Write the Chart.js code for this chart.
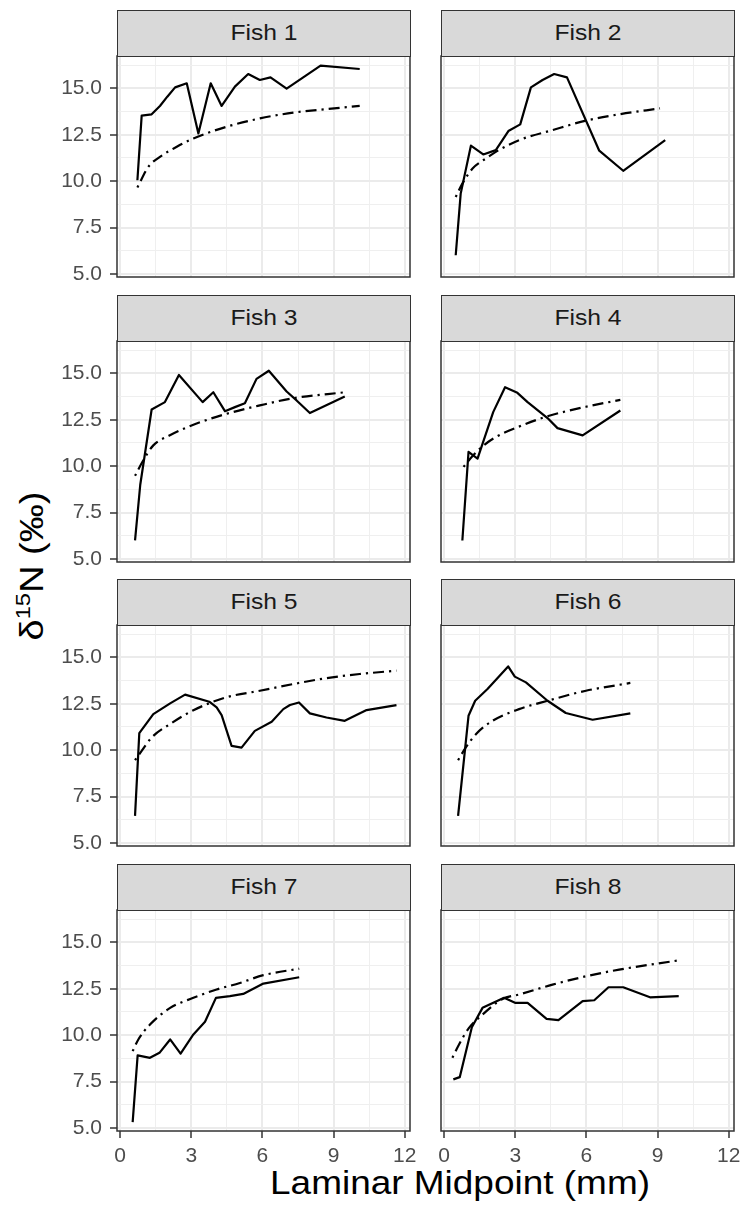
<!DOCTYPE html>
<html>
<head>
<meta charset="utf-8">
<title>Fish d15N by laminar midpoint</title>
<script src="https://cdn.jsdelivr.net/npm/chart.js@4.4.1/dist/chart.umd.min.js"></script>
<style>
html,body{margin:0;padding:0;background:#fff;}
#fig{position:relative;width:745px;height:1206px;overflow:hidden;background:#fff;font-family:"Liberation Sans",Arial,Helvetica,sans-serif;}
#fig canvas{position:absolute;}
.strip{position:absolute;box-sizing:border-box;background:#D9D9D9;border:1.5px solid #333333;color:#1A1A1A;font-size:22px;line-height:1;display:flex;align-items:center;justify-content:center;}
.strip span{display:inline-block;transform:scaleX(1.12);}
.xtitle{position:absolute;left:460px;top:1166px;transform:translateX(-50%) scaleX(1.12);font-size:33px;line-height:1;color:#000;white-space:nowrap;}
.ytitle{position:absolute;left:31px;top:566px;transform:translate(-50%,-50%) rotate(-90deg) scaleX(1.12);font-size:34px;line-height:1;color:#000;white-space:nowrap;}
.ytitle .sup{font-size:0.62em;position:relative;top:-0.62em;}
</style>
</head>
<body>
<div id="fig">
  <div class="ytitle">δ<span class="sup">15</span>N (‰)</div>
  <div class="xtitle">Laminar Midpoint (mm)</div>
</div>
<script>
// ---------- data ----------
const panelTitles = ['Fish 1', 'Fish 2', 'Fish 3', 'Fish 4', 'Fish 5', 'Fish 6', 'Fish 7', 'Fish 8'];

const fish1X = [0.73, 0.91, 1.33, 1.68, 1.99, 2.32, 2.81, 3.30, 3.82, 4.28, 4.84, 5.40, 5.89, 6.34, 7.02, 8.45, 10.10];
const fish1Y = [10.05, 13.53, 13.60, 14.05, 14.55, 15.05, 15.27, 12.57, 15.27, 14.05, 15.09, 15.77, 15.45, 15.59, 14.98, 16.22, 16.04];
const fit1X = [0.73, 1.19, 1.68, 2.39, 3.09, 4.49, 5.89, 7.30, 8.70, 10.10];
const fit1Y = [9.66, 10.77, 11.31, 11.85, 12.30, 12.93, 13.38, 13.69, 13.88, 14.05];

const fish2X = [0.49, 0.70, 1.13, 1.65, 2.18, 2.71, 3.21, 3.66, 4.15, 4.64, 5.18, 6.54, 7.55, 9.32];
const fish2Y = [6.01, 9.33, 11.91, 11.44, 11.67, 12.70, 13.06, 15.05, 15.45, 15.77, 15.59, 11.64, 10.56, 12.21];
const fit2X = [0.49, 0.77, 1.20, 1.76, 2.18, 3.16, 4.57, 5.98, 7.38, 9.10];
const fit2Y = [9.15, 9.87, 10.68, 11.22, 11.58, 12.21, 12.75, 13.26, 13.60, 13.92];

const fish3X = [0.63, 0.85, 1.33, 1.89, 2.48, 3.48, 3.93, 4.42, 4.84, 5.26, 5.75, 6.27, 7.02, 7.44, 8.00, 9.47];
const fish3Y = [6.00, 9.00, 13.05, 13.45, 14.91, 13.45, 13.98, 12.96, 13.18, 13.39, 14.70, 15.14, 14.02, 13.54, 12.86, 13.75];
const fit3X = [0.63, 0.98, 1.40, 2.10, 3.09, 4.49, 5.89, 7.30, 9.47];
const fit3Y = [9.48, 10.32, 11.12, 11.66, 12.23, 12.82, 13.27, 13.66, 13.98];

const fish4X = [0.77, 1.03, 1.41, 2.07, 2.57, 3.09, 3.52, 4.36, 4.78, 5.84, 7.43];
const fish4Y = [6.00, 10.77, 10.41, 12.91, 14.25, 13.95, 13.45, 12.59, 12.05, 11.66, 13.00];
const fit4X = [0.82, 1.20, 1.60, 2.18, 3.16, 4.29, 5.98, 7.43];
const fit4Y = [9.96, 10.55, 11.05, 11.57, 12.13, 12.66, 13.20, 13.57];

const fish5X = [0.63, 0.81, 1.40, 2.11, 2.74, 3.76, 4.07, 4.28, 4.70, 5.12, 5.68, 6.39, 6.88, 7.16, 7.54, 8.00, 8.70, 9.47, 10.39, 11.65];
const fish5Y = [6.46, 10.92, 11.94, 12.52, 12.99, 12.61, 12.30, 11.89, 10.23, 10.14, 11.04, 11.53, 12.21, 12.43, 12.57, 11.98, 11.76, 11.58, 12.16, 12.43];
const fit5X = [0.63, 0.91, 1.33, 2.10, 3.09, 4.49, 5.89, 7.30, 8.70, 10.10, 11.65];
const fit5Y = [9.46, 9.96, 10.68, 11.40, 12.15, 12.85, 13.20, 13.56, 13.88, 14.10, 14.28];

const fish6X = [0.59, 1.03, 1.31, 1.83, 2.70, 2.98, 3.45, 4.36, 5.13, 6.26, 7.85];
const fish6Y = [6.46, 11.85, 12.66, 13.29, 14.51, 13.96, 13.65, 12.66, 12.00, 11.64, 11.98];
const fit6X = [0.59, 0.91, 1.34, 2.04, 3.16, 4.36, 5.98, 7.85];
const fit6Y = [9.46, 10.14, 10.86, 11.58, 12.21, 12.66, 13.20, 13.62];

const fish7X = [0.53, 0.74, 1.26, 1.66, 2.11, 2.55, 3.09, 3.58, 4.04, 4.63, 5.19, 6.04, 7.55];
const fish7Y = [5.32, 8.91, 8.78, 9.05, 9.77, 9.01, 10.04, 10.72, 12.01, 12.10, 12.22, 12.78, 13.12];
const fit7X = [0.53, 0.77, 1.26, 2.11, 3.09, 4.07, 5.05, 6.04, 7.55];
const fit7Y = [9.14, 9.77, 10.57, 11.47, 12.01, 12.46, 12.81, 13.23, 13.58];

const fish8X = [0.39, 0.66, 1.17, 1.62, 2.53, 2.99, 3.52, 4.32, 4.82, 5.84, 6.33, 6.93, 7.55, 8.68, 9.89];
const fish8Y = [7.62, 7.74, 10.43, 11.47, 12.01, 11.74, 11.74, 10.88, 10.81, 11.83, 11.88, 12.58, 12.58, 12.04, 12.10];
const fit8X = [0.35, 0.63, 1.05, 1.62, 2.46, 3.16, 4.57, 5.98, 7.38, 9.89];
const fit8Y = [8.78, 9.50, 10.39, 11.11, 11.95, 12.19, 12.72, 13.17, 13.53, 14.03];

const xTickValues = [0, 3, 6, 9, 12];
const xTickLabels = ['0', '3', '6', '9', '12'];
const yTickValues = [5, 7.5, 10, 12.5, 15];
const yTickLabels = ['5.0', '7.5', '10.0', '12.5', '15.0'];

const measuredX = [fish1X, fish2X, fish3X, fish4X, fish5X, fish6X, fish7X, fish8X];
const measuredY = [fish1Y, fish2Y, fish3Y, fish4Y, fish5Y, fish6Y, fish7Y, fish8Y];
const fittedX = [fit1X, fit2X, fit3X, fit4X, fit5X, fit6X, fit7X, fit8X];
const fittedY = [fit1Y, fit2Y, fit3Y, fit4Y, fit5Y, fit6Y, fit7Y, fit8Y];

// ---------- layout / style ----------
const X_MIN = -0.13, X_MAX = 12.22, Y_MIN = 4.84, Y_MAX = 16.74;
const COL_LEFT = [117, 441], PLOT_W = 293;
const ROW_TOP = [56, 341, 625, 910], PLOT_H = 221, STRIP_H = 47;
const PAD = 26;
const FONT = "'Liberation Sans', Arial, Helvetica, sans-serif";

function gridList(major, lo, hi) {
  const step = major[1] - major[0];
  const out = major.map(v => ({ v: v, isMajor: true }));
  out.push({ v: major[0] - step / 2, isMajor: false });
  major.forEach(v => out.push({ v: v + step / 2, isMajor: false }));
  return out.filter(g => g.v > lo && g.v < hi).sort((a, b) => a.v - b.v);
}
const xGrid = gridList(xTickValues, X_MIN, X_MAX);
const yGrid = gridList(yTickValues, Y_MIN, Y_MAX);

const zip = (xs, ys) => xs.map((x, i) => ({ x: x, y: ys[i] }));

const panelBorder = {
  id: 'panelBorder',
  afterDatasetsDraw(chart) {
    const a = chart.chartArea, ctx = chart.ctx;
    ctx.save();
    ctx.strokeStyle = '#333333';
    ctx.lineWidth = 1.5;
    ctx.strokeRect(a.left, a.top, a.right - a.left, a.bottom - a.top);
    ctx.restore();
  }
};

function axisOpts(grid, values, labels, min, max, show, isX, size) {
  return {
    type: 'linear',
    position: isX ? 'bottom' : 'left',
    min: min, max: max,
    bounds: 'data',
    afterBuildTicks: s => { s.ticks = grid.map(g => ({ value: g.v, isMajor: g.isMajor })); },
    afterFit: s => { if (isX) s.height = size; else s.width = size; },
    border: { display: false },
    grid: {
      display: true,
      drawOnChartArea: true,
      drawTicks: show,
      tickLength: 7,
      tickWidth: 1.5,
      tickColor: c => (c.tick && c.tick.isMajor) ? '#333333' : 'rgba(0,0,0,0)',
      color: c => (c.tick && c.tick.isMajor) ? '#EBEBEB' : '#EFEFEF',
      lineWidth: c => (c.tick && c.tick.isMajor) ? 2 : 1
    },
    ticks: {
      display: show,
      autoSkip: false,
      maxRotation: 0,
      minRotation: 0,
      padding: isX ? 6 : 8,
      color: '#4D4D4D',
      font: { family: FONT, size: 21 },
      callback: (v, i, ticks) => ticks[i].isMajor ? labels[values.indexOf(v)] : ''
    }
  };
}

const fig = document.getElementById('fig');

for (let i = 0; i < 8; i++) {
  const r = Math.floor(i / 2), c = i % 2;
  const showY = c === 0, showX = r === 3;
  const axW = showY ? 60 : 0;
  const padL = showY ? 0 : 12;
  const axH = showX ? 42 : 0;

  const cv = document.createElement('canvas');
  const W = padL + axW + PLOT_W + PAD;
  const H = PAD + PLOT_H + axH + PAD;
  cv.width = W; cv.height = H;
  cv.style.width = W + 'px'; cv.style.height = H + 'px';
  cv.style.left = (COL_LEFT[c] - padL - axW) + 'px';
  cv.style.top = (ROW_TOP[r] - PAD) + 'px';
  fig.appendChild(cv);

  const strip = document.createElement('div');
  strip.className = 'strip';
  strip.style.left = COL_LEFT[c] + 'px';
  strip.style.top = (ROW_TOP[r] - STRIP_H + 0.75) + 'px';
  strip.style.width = (PLOT_W + 0.75) + 'px';
  strip.style.height = STRIP_H + 'px';
  const sp = document.createElement('span');
  sp.textContent = panelTitles[i];
  strip.appendChild(sp);
  fig.appendChild(strip);

  new Chart(cv, {
    type: 'scatter',
    data: {
      datasets: [
        {
          label: panelTitles[i] + ' fit',
          data: zip(fittedX[i], fittedY[i]),
          showLine: true,
          borderColor: '#000000',
          borderWidth: 2.2,
          borderDash: [2.2, 5, 11, 5],
          borderCapStyle: 'butt',
          borderJoinStyle: 'round',
          cubicInterpolationMode: 'monotone',
          pointRadius: 0, pointHoverRadius: 0
        },
        {
          label: panelTitles[i],
          data: zip(measuredX[i], measuredY[i]),
          showLine: true,
          borderColor: '#000000',
          borderWidth: 2.2,
          borderJoinStyle: 'round',
          tension: 0,
          pointRadius: 0, pointHoverRadius: 0
        }
      ]
    },
    options: {
      responsive: false,
      animation: false,
      devicePixelRatio: 1,
      events: [],
      layout: { padding: { left: padL, right: PAD, top: PAD, bottom: PAD } },
      plugins: { legend: { display: false }, tooltip: { enabled: false }, title: { display: false } },
      scales: {
        x: axisOpts(xGrid, xTickValues, xTickLabels, X_MIN, X_MAX, showX, true, axH),
        y: axisOpts(yGrid, yTickValues, yTickLabels, Y_MIN, Y_MAX, showY, false, axW)
      }
    },
    plugins: [panelBorder]
  });
}
</script>
</body>
</html>
